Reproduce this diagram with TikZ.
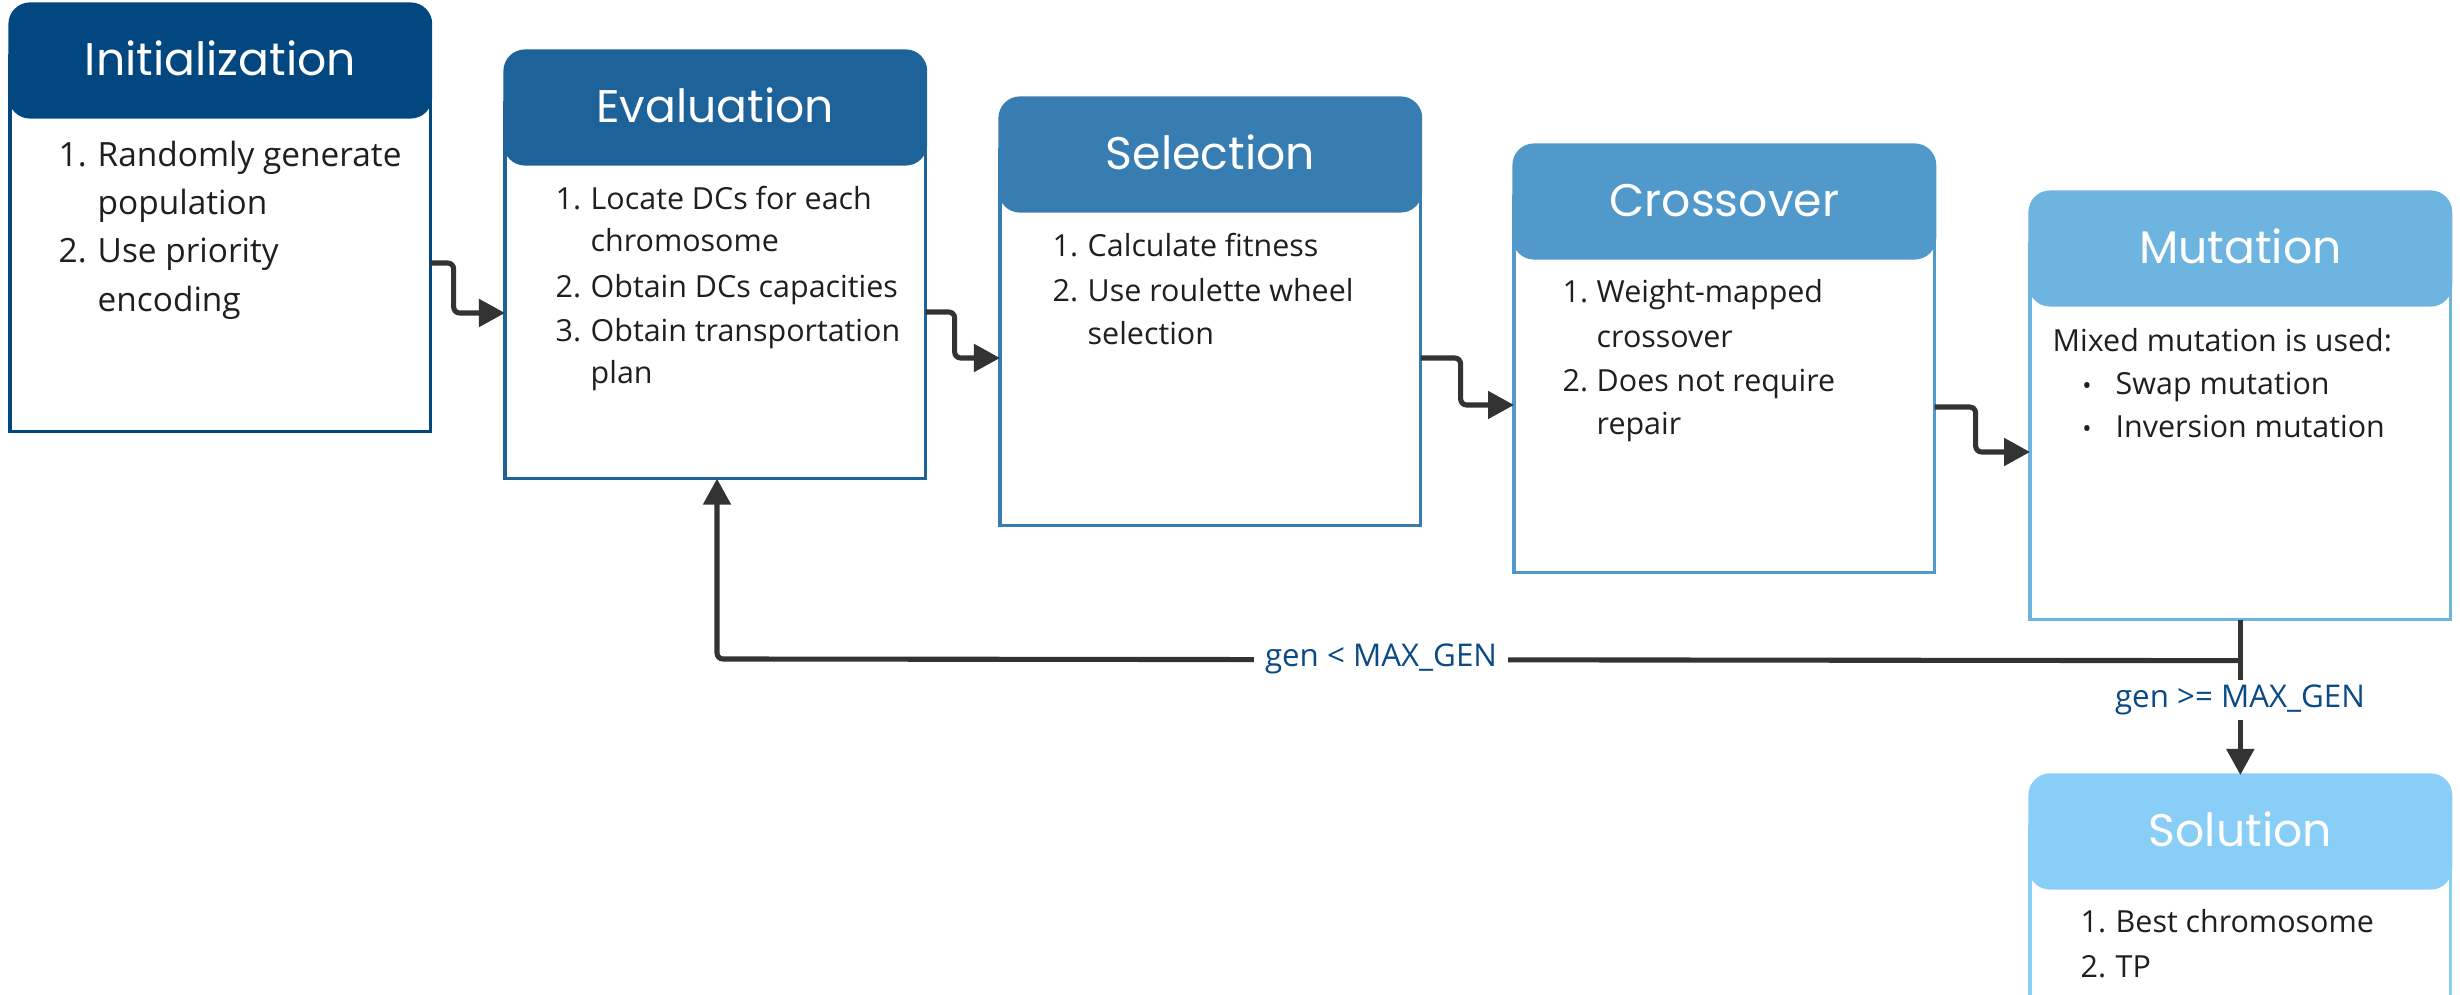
\documentclass[tikz,border=0pt]{standalone}
\usepackage{fontspec}
\setmainfont{Open Sans}
\newfontfamily\titlefont{Poppins}
\usetikzlibrary{arrows.meta,calc}
\definecolor{cInit}{HTML}{034780}
\definecolor{cEval}{HTML}{1E629A}
\definecolor{cSel}{HTML}{387DB1}
\definecolor{cCross}{HTML}{5199CA}
\definecolor{cMut}{HTML}{6EB4E0}
\definecolor{cSol}{HTML}{89CEF7}
\definecolor{arrowgray}{HTML}{333333}
\definecolor{lblue}{HTML}{0A4A85}
\definecolor{bodytext}{HTML}{1F1F1F}
\newcommand\stagebox[5]{%
  \node[draw=none, minimum width=4.19cm, minimum height=4.26cm, inner sep=0, anchor=north west] (#1) at (#2,#3) {};
  \draw[draw=#4, line width=0.9pt, fill=white] ($(#1.north west)+(0,50)$) -- (#1.south west) -- (#1.south east) -- ($(#1.north east)+(0,50)$);
  \filldraw[#4, line width=0.9pt, rounded corners=0.2cm] (#1.north west) rectangle ($(#1.north east)+(0,113)$);
  \node[titletext] (#1-t) at ($(#1.north)+(0,72)$) {#5};
}
\begin{document}
\begin{tikzpicture}[x=0.01cm, y=-0.01cm,
  titletext/.style={font=\titlefont\fontsize{13}{13}\selectfont, text=white, anchor=base, inner sep=0},
  body/.style={font=\fontsize{8.65}{8.65}\selectfont, text=bodytext, anchor=base west, inner sep=0},
  bodyL/.style={body, font=\fontsize{9.5}{9.5}\selectfont},
  bul/.style={font=\fontsize{7}{7}\selectfont, text=bodytext, anchor=base, inner sep=0},
  conn/.style={draw=arrowgray, line width=1.45pt, rounded corners=0.06cm, -{Triangle[length=0.26cm,width=0.27cm]}},
  lbl/.style={fill=white, text=lblue, font=\fontsize{8.9}{8.9}\selectfont, inner xsep=3pt, inner ysep=1.5pt}]
\clip (0,0) rectangle (2460,995);
\fill[white] (0,0) rectangle (2460,995);

\stagebox{init}{10}{4}{cInit}{Initialization}
\stagebox{eval}{505}{51}{cEval}{Evaluation}
\stagebox{sel}{1000}{98}{cSel}{Selection}
\stagebox{cross}{1514}{145}{cCross}{Crossover}
\stagebox{mut}{2030}{192}{cMut}{Mutation}
\stagebox{sol}{2030}{775}{cSol}{Solution}

% Initialization text
\node[bodyL] (i1n) at (58,167) {1.};
\node[bodyL] (i1a) at (97,167) {Randomly generate};
\node[bodyL] (i1b) at (97,215) {population};
\node[bodyL] (i2n) at (58,263) {2.};
\node[bodyL] (i2a) at (97,263) {Use priority};
\node[bodyL] (i2b) at (97,312) {encoding};

% Evaluation text
\node[body] (e1n) at (555,210) {1.};
\node[body] (e1a) at (590,210) {Locate DCs for each};
\node[body] (e1b) at (590,252) {chromosome};
\node[body] (e2n) at (555,298) {2.};
\node[body] (e2a) at (590,298) {Obtain DCs capacities};
\node[body] (e3n) at (555,342) {3.};
\node[body] (e3a) at (590,342) {Obtain transportation};
\node[body] (e3b) at (590,384) {plan};

% Selection text
\node[body] (s1n) at (1052,257) {1.};
\node[body] (s1a) at (1087,257) {Calculate fitness};
\node[body] (s2n) at (1052,302) {2.};
\node[body] (s2a) at (1087,302) {Use roulette wheel};
\node[body] (s2b) at (1087,345) {selection};

% Crossover text
\node[body] (c1n) at (1562,303) {1.};
\node[body] (c1a) at (1596,303) {Weight-mapped};
\node[body] (c1b) at (1596,348) {crossover};
\node[body] (c2n) at (1562,392) {2.};
\node[body] (c2a) at (1596,392) {Does not require};
\node[body] (c2b) at (1596,435) {repair};

% Mutation text
\node[body] (m0) at (2052,352) {Mixed mutation is used:};
\node[bul] (m1n) at (2087,395) {•};
\node[body] (m1a) at (2115,395) {Swap mutation};
\node[bul] (m2n) at (2087,438) {•};
\node[body] (m2a) at (2115,438) {Inversion mutation};

% Solution text
\node[body] (o1n) at (2080,933) {1.};
\node[body] (o1a) at (2115,933) {Best chromosome};
\node[body] (o2n) at (2080,978) {2.};
\node[body] (o2a) at (2115,978) {TP};

% connectors
\draw[conn] ($(init.north east)+(0,259)$) -- ++(23,0) |- ($(eval.north west)+(0,262)$);
\draw[conn] ($(eval.north east)+(0,261)$) -- ++(29,0) |- ($(sel.north west)+(0,260)$);
\draw[conn] ($(sel.north east)+(0,260)$) -- ++(40,0) |- ($(cross.north west)+(0,260)$);
\draw[conn] ($(cross.north east)+(0,262)$) -- ++(41,0) |- ($(mut.north west)+(0,260)$);

\coordinate (split) at ($(mut.south)+(0,41)$);
\coordinate (back) at (717,659);
\draw[conn] (split) -- (back) -- (back |- eval.south);
\draw[conn] (mut.south) -- (sol.north);
\node[lbl] (lt) at (1381,659) {gen < MAX\_GEN};
\node[lbl] (ge) at (2240,700) {gen >= MAX\_GEN};
\end{tikzpicture}
\end{document}
